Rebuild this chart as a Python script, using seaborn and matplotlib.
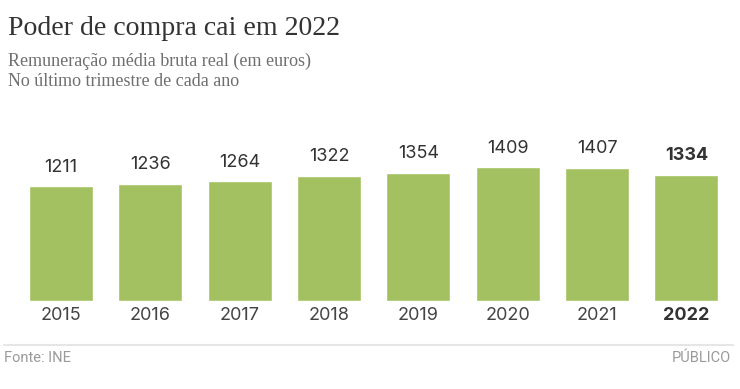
import numpy as np
import pandas as pd
import matplotlib
matplotlib.use("Agg")
import matplotlib.pyplot as plt
import seaborn as sns

years = ["2015", "2016", "2017", "2018", "2019", "2020", "2021", "2022"]
wages = [1211, 1236, 1264, 1322, 1354, 1409, 1407, 1334]

df = pd.DataFrame({"ano": years, "valor": wages})

sns.set_theme(style="white")
plt.rcParams["font.family"] = ["Inter", "DejaVu Sans"]

fig = plt.figure(figsize=(7.4, 3.89), dpi=100)
ax = fig.add_axes([0.022, 0.226, 0.966, 0.39])

sns.barplot(data=df, x="ano", y="valor", color="#a3c160", width=0.716,
            saturation=1, errorbar=None, ax=ax)

ax.set_ylim(0, 1600)
ax.set_xlim(-0.5, len(years) - 0.5)
sns.despine(ax=ax, left=True, bottom=True)
ax.set_yticks([])
ax.set_xlabel("")
ax.set_ylabel("")
ax.tick_params(axis="x", length=0, pad=4)
ax.set_xticks(range(len(years)))
ax.set_xticklabels(years, fontsize=13, color="#444444")
ax.get_xticklabels()[-1].set_fontweight("bold")
ax.get_xticklabels()[-1].set_color("#333333")

for i, v in enumerate(wages):
    last = i == len(wages) - 1
    ax.text(i, v + 110, str(v), ha="center", va="bottom", fontsize=13,
            color="#333333", fontweight="bold" if last else "normal")

serif = ["Liberation Serif", "DejaVu Serif"]
fig.text(0.011, 0.91, "Poder de compra cai em 2022", family=serif,
         fontsize=20.1, color="#333333", va="baseline")
fig.text(0.011, 0.83, "Remuneração média bruta real (em euros)", family=serif,
         fontsize=13, color="#6f6f6f", va="baseline")
fig.text(0.011, 0.778, "No último trimestre de cada ano", family=serif,
         fontsize=13, color="#6f6f6f", va="baseline")

fig.add_artist(plt.Line2D([0.005, 0.99], [0.112, 0.112], color="#e6e6e6",
                          lw=1.5, transform=fig.transFigure))
narrow = ["Roboto", "DejaVu Sans"]
fig.text(0.005, 0.069, "Fonte: INE", family=narrow, fontsize=10.5,
         color="#9a9a9a", va="baseline")
fig.text(0.987, 0.069, "PÚBLICO", family=narrow, fontsize=10.5,
         color="#9a9a9a", va="baseline", ha="right")

fig.savefig("out.png", dpi=100, facecolor="white")
